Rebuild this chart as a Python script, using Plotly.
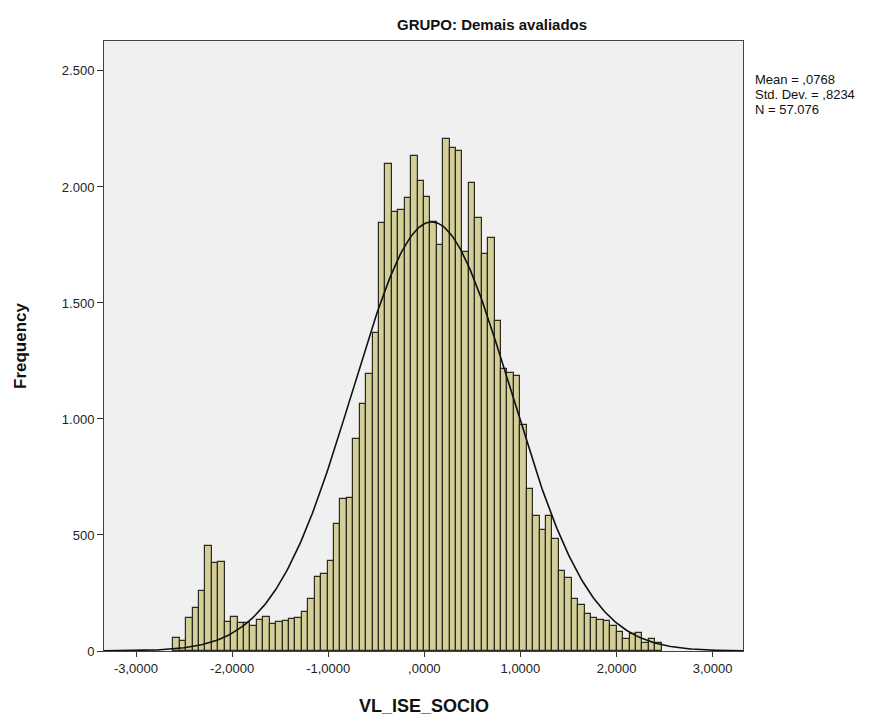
import numpy as np
import plotly.graph_objects as go

# ---- data ----
bin_start = -2.612
bin_width = 0.06687
counts = [57, 45, 142, 186, 258, 454, 379, 384, 127, 148,
          122, 121, 107, 135, 148, 115, 125, 130, 136, 142,
          167, 224, 320, 331, 389, 549, 655, 661, 912, 1065,
          1192, 1371, 1844, 2099, 1890, 1900, 1951, 2132, 2024, 1958,
          1848, 1750, 2208, 2170, 2156, 1720, 2015, 1865, 1710, 1782,
          1422, 1214, 1197, 1185, 975, 697, 584, 522, 584, 481,
          346, 313, 223, 198, 159, 144, 134, 129, 109, 83,
          50, 73, 79, 35, 50, 35]
mean_val = 0.0768
sd_val = 0.8234
n_val = 57076

x_tickvals = [-3, -2, -1, 0, 1, 2, 3]
x_ticktext = ["-3,0000", "-2,0000", "-1,0000", ",0000", "1,0000", "2,0000", "3,0000"]
y_tickvals = [0, 500, 1000, 1500, 2000, 2500]
y_ticktext = ["0", "500", "1.000", "1.500", "2.000", "2.500"]

title_text = "GRUPO: Demais avaliados"
x_title = "VL_ISE_SOCIO"
y_title = "Frequency"
stats_lines = ["Mean = ,0768", "Std. Dev. = ,8234", "N = 57.076"]

# ---- derived ----
centers = [bin_start + bin_width * (i + 0.5) for i in range(len(counts))]
xr = (-3.333, 3.316)
xc = np.linspace(xr[0], xr[1], 400)
yc = n_val * bin_width / (sd_val * np.sqrt(2 * np.pi)) * np.exp(-0.5 * ((xc - mean_val) / sd_val) ** 2)

font_family = "Liberation Sans, Arial, sans-serif"

fig = go.Figure()
fig.add_trace(go.Bar(
    x=centers, y=counts, width=bin_width,
    marker=dict(color="#d4cf98", line=dict(color="#2a2a20", width=1.2)),
    hoverinfo="x+y", showlegend=False,
))
fig.add_trace(go.Scatter(
    x=xc, y=yc, mode="lines", line=dict(color="#111111", width=1.6),
    hoverinfo="skip", showlegend=False,
))

annotations = [
    dict(text="<b>" + title_text + "</b>", xref="paper", yref="paper",
         x=0.607, y=1.0, yshift=17, xanchor="center", yanchor="middle",
         showarrow=False, font=dict(size=15, color="#111111")),
    dict(text="<b>" + x_title + "</b>", xref="paper", yref="paper",
         x=0.5, y=0.0, yshift=-55, xanchor="center", yanchor="middle",
         showarrow=False, font=dict(size=18, color="#111111")),
    dict(text="<b>" + y_title + "</b>", xref="paper", yref="paper",
         x=0.0, xshift=-84, y=0.5, xanchor="center", yanchor="middle", textangle=-90,
         showarrow=False, font=dict(size=17, color="#111111")),
]
for k, line in enumerate(stats_lines):
    annotations.append(dict(
        text=line, xref="paper", yref="paper",
        x=1.0, xshift=10, y=1.0, yshift=-38 - 15 * k, xanchor="left", yanchor="middle",
        align="left", showarrow=False, font=dict(size=13, color="#111111")))

fig.update_layout(
    width=890, height=718,
    margin=dict(l=104, r=147, t=41, b=67, autoexpand=False),
    paper_bgcolor="white", plot_bgcolor="#f0f0f0",
    bargap=0,
    font=dict(family=font_family, size=13, color="#222222"),
    xaxis=dict(
        range=list(xr), tickvals=x_tickvals, ticktext=x_ticktext,
        ticks="outside", ticklen=5, tickcolor="#333333", tickwidth=1,
        showline=True, linecolor="#444444", linewidth=1, mirror=True,
        showgrid=False, zeroline=False, automargin=False,
        tickfont=dict(size=13, color="#222222"),
    ),
    yaxis=dict(
        range=[0, 2629], tickvals=y_tickvals, ticktext=y_ticktext,
        ticks="outside", ticklen=6, tickcolor="#333333", tickwidth=1,
        showline=True, linecolor="#444444", linewidth=1, mirror=True,
        showgrid=False, zeroline=False, automargin=False,
        tickfont=dict(size=13, color="#222222"),
    ),
    annotations=annotations,
)

fig.write_html("out.html")
